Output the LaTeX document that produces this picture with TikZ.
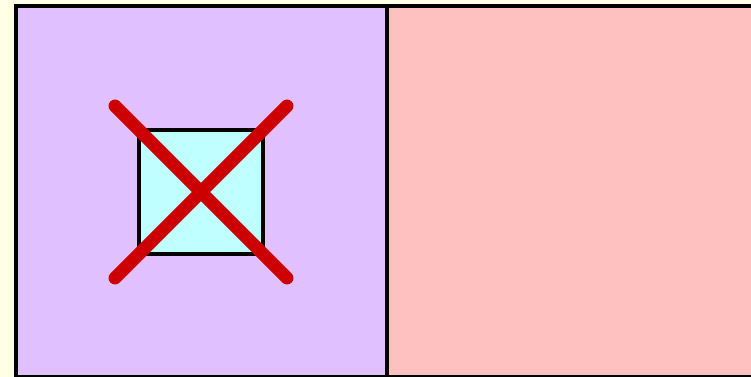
\documentclass[tikz,border=0pt]{standalone}
\usetikzlibrary{positioning}
\definecolor{PageCream}{HTML}{FFFFE6}
\definecolor{PanelLilac}{HTML}{E0C0FF}
\definecolor{PanelPink}{HTML}{FFC0C0}
\definecolor{BoxCyan}{HTML}{C0FFFF}
\definecolor{CrossRed}{HTML}{CC0000}

\begin{document}
\begin{tikzpicture}[
    x=0.02cm, y=-0.02cm,
    panel/.style={
      draw=black,
      line width=0.09cm,
      minimum height=7.42cm,
      inner sep=0pt,
      outer sep=0pt,
      anchor=north west
    },
    smallbox/.style={
      draw=black,
      fill=BoxCyan,
      line width=0.09cm,
      minimum size=2.48cm,
      inner sep=0pt
    },
    cross/.style={
      draw=CrossRed,
      line width=0.26cm,
      line cap=round
    }]

    % Page and clipping frame
    \useasboundingbox (0,0) rectangle (751,377);
    \fill[PageCream] (0,0) rectangle (751,377);
    \clip (0,0) rectangle (751,377);

    % Two panels
    \node[panel,fill=PanelLilac,minimum width=7.42cm] (leftpanel) at (16,6) {};
    \node[panel,fill=PanelPink,minimum width=7.46cm] (rightpanel) at (leftpanel.north east) {};

    % Crossed-out box
    \node[smallbox] (box) at (201,192) {};
    \coordinate (crossA) at ([shift={(-86,-86)}]box.center);
    \coordinate (crossB) at ([shift={(86,86)}]box.center);
    \coordinate (crossC) at ([shift={(86,-86)}]box.center);
    \coordinate (crossD) at ([shift={(-86,86)}]box.center);
    \draw[cross] (crossA) -- (crossB);
    \draw[cross] (crossC) -- (crossD);
  \end{tikzpicture}
\end{document}
